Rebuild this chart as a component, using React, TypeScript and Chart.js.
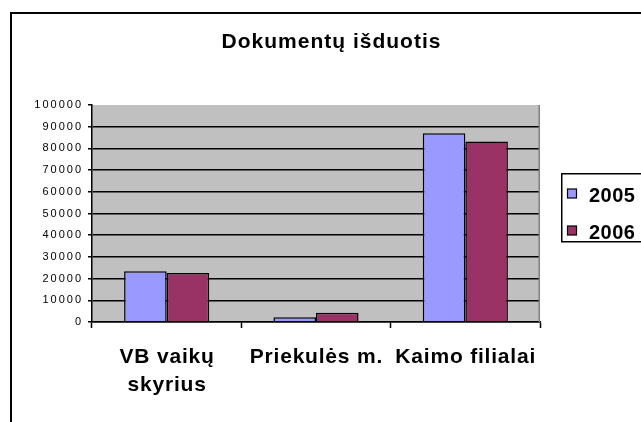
import React, { useEffect, useRef } from "react";
import { Chart, registerables } from "chart.js";

Chart.register(...registerables);

const chartTitle = "Dokumentų išduotis";
const categories: (string | string[])[] = [["VB vaikų", "skyrius"], "Priekulės m.", "Kaimo filialai"];
const seriesLabels = ["2005", "2006"];
const values2005 = [23400, 2200, 87000];
const values2006 = [22600, 4300, 83200];
const yMin = 0;
const yMax = 100000;
const yStep = 10000;

const FONT = "'Liberation Sans', Arial, Helvetica, sans-serif";
const COLOR_2005 = "#9999FF";
const COLOR_2006 = "#993366";
const PLOT_BG = "#C0C0C0";

const decorPlugin = {
  id: "decor",
  beforeDraw(chart: any) {
    const { ctx, chartArea: a } = chart;
    ctx.save();
    ctx.fillStyle = "#ffffff";
    ctx.fillRect(0, 0, chart.width, chart.height);
    ctx.fillStyle = PLOT_BG;
    ctx.fillRect(a.left, a.top, a.right - a.left, a.bottom - a.top);
    ctx.restore();
    (ctx as any).letterSpacing = "2px";
  },
  afterDatasetsDraw(chart: any) {
    const { ctx, chartArea: a } = chart;
    ctx.save();
    ctx.strokeStyle = "#808080";
    ctx.lineWidth = 1.5;
    ctx.beginPath();
    ctx.moveTo(a.right - 0.75, a.top);
    ctx.lineTo(a.right - 0.75, a.bottom);
    ctx.stroke();
    ctx.restore();
  },
  afterDraw(chart: any) {
    const { ctx, chartArea: a } = chart;
    ctx.save();
    (ctx as any).letterSpacing = "0px";
    // outer frame
    ctx.strokeStyle = "#000";
    ctx.lineWidth = 2;
    ctx.strokeRect(11, 13, 800, 600);

    ctx.fillStyle = "#000";
    // title
    ctx.font = `bold 21px ${FONT}`;
    (ctx as any).letterSpacing = "1px";
    ctx.textAlign = "center";
    ctx.textBaseline = "alphabetic";
    ctx.fillText(chartTitle, 331.5, 48);

    // category labels
    ctx.font = `bold 21px ${FONT}`;
    (ctx as any).letterSpacing = "0.8px";
    const xs = chart.scales.x;
    categories.forEach((c, i) => {
      const lines = Array.isArray(c) ? c : [c];
      const x = xs.getPixelForValue(i) + 0.4;
      lines.forEach((line, j) => {
        ctx.fillText(line, x, a.bottom + 41 + j * 28);
      });
    });

    // legend
    ctx.strokeStyle = "#000";
    ctx.lineWidth = 1.5;
    ctx.strokeRect(561.75, 173.75, 200, 68);
    ctx.font = `bold 20px ${FONT}`;
    (ctx as any).letterSpacing = "0.5px";
    ctx.textAlign = "left";
    chart.data.datasets.forEach((ds: any, i: number) => {
      const sy = 189 + i * 37;
      ctx.fillStyle = ds.backgroundColor;
      ctx.fillRect(567.5, sy, 9, 9);
      ctx.lineWidth = 1.2;
      ctx.strokeRect(567.5, sy, 9, 9);
      ctx.fillStyle = "#000";
      ctx.fillText(ds.label, 589, sy + 12.5);
    });
    ctx.restore();
  },
};

export default function App() {
  const ref = useRef<HTMLCanvasElement | null>(null);

  useEffect(() => {
    if (!ref.current) return;
    const chart = new Chart(ref.current, {
      type: "bar",
      data: {
        labels: categories as any,
        datasets: [
          {
            label: seriesLabels[0],
            data: values2005,
            backgroundColor: COLOR_2005,
            borderColor: "#000",
            borderWidth: 1.5,
            categoryPercentage: 0.57,
            barPercentage: 1,
          },
          {
            label: seriesLabels[1],
            data: values2006,
            backgroundColor: COLOR_2006,
            borderColor: "#000",
            borderWidth: 1.5,
            categoryPercentage: 0.57,
            barPercentage: 1,
          },
        ],
      },
      options: {
        responsive: false,
        animation: false,
        devicePixelRatio: 1,
        layout: { padding: { left: 0, top: 105, right: 101, bottom: 90 } },
        plugins: {
          legend: { display: false },
          title: { display: false },
          tooltip: { enabled: false },
        },
        scales: {
          x: {
            offset: true,
            grid: {
              display: true,
              offset: true,
              drawOnChartArea: false,
              drawTicks: true,
              tickLength: 6,
              tickWidth: 1.5,
              tickColor: "#000",
              color: "#000",
            },
            border: { display: true, color: "#000", width: 1.5 },
            ticks: { display: false },
            afterFit: (s: any) => {
              s.height = 10;
            },
          },
          y: {
            min: yMin,
            max: yMax,
            ticks: {
              stepSize: yStep,
              color: "#000",
              font: { family: FONT, size: 11 },
              padding: 5,
              callback: (v: any) => String(v),
            },
            grid: {
              color: (c: any) => (c.tick && c.tick.value === yMax ? "rgba(0,0,0,0)" : "#000"),
              lineWidth: 1.5,
              tickLength: 4,
              tickColor: "#000",
              tickWidth: 1.5,
            },
            border: { display: true, color: "#000", width: 1.5 },
            afterFit: (s: any) => {
              s.width = 92;
            },
          },
        },
      },
      plugins: [decorPlugin],
    });
    return () => chart.destroy();
  }, []);

  return (
    <div style={{ position: "fixed", left: 0, top: 0, width: 641, height: 422 }}>
      <canvas ref={ref} width={641} height={422} style={{ display: "block" }} />
    </div>
  );
}
